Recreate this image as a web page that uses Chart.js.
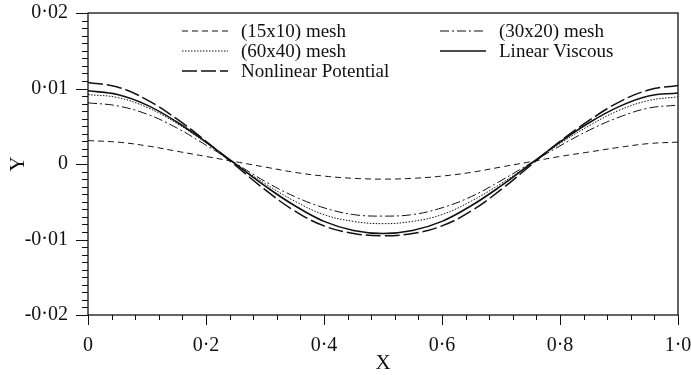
<!DOCTYPE html>
<html>
<head>
<meta charset="utf-8">
<script src="https://cdn.jsdelivr.net/npm/chart.js@4/dist/chart.umd.min.js"></script>
<style>
  html, body { margin: 0; padding: 0; background: #fff; }
  #wrap { width: 691px; height: 375px; }
</style>
</head>
<body>
<div id="wrap"><canvas id="c" width="691" height="375"></canvas></div>
<script>
// x positions of the sampled points
var xValues = [0, 0.05, 0.1, 0.15, 0.2, 0.25, 0.3, 0.35, 0.4, 0.45, 0.5,
               0.55, 0.6, 0.65, 0.7, 0.75, 0.8, 0.85, 0.9, 0.95, 1.0];

var mesh15x10 = [0.0031, 0.0029, 0.0024, 0.0017, 0.0010, 0.0003, -0.0004, -0.0011, -0.0016, -0.0019, -0.0020,
                 -0.0019, -0.0016, -0.0011, -0.0004, 0.0003, 0.0010, 0.0016, 0.0022, 0.0027, 0.0029];
var mesh30x20 = [0.0081, 0.0077, 0.0066, 0.0048, 0.0025, 0.0001, -0.0023, -0.0043, -0.0058, -0.0067, -0.0069,
                 -0.0067, -0.0058, -0.0043, -0.0022, 0.0001, 0.0024, 0.0045, 0.0062, 0.0074, 0.0078];
var mesh60x40 = [0.0092, 0.0088, 0.0075, 0.0054, 0.0028, 0.0000, -0.0026, -0.0049, -0.0067, -0.0076, -0.0079,
                 -0.0076, -0.0067, -0.0049, -0.0026, 0.0000, 0.0027, 0.0051, 0.0071, 0.0084, 0.0089];
var linearViscous = [0.0097, 0.0092, 0.0078, 0.0056, 0.0029, 0.0000, -0.0029, -0.0055, -0.0076, -0.0088, -0.0092,
                     -0.0088, -0.0076, -0.0055, -0.0029, 0.0000, 0.0029, 0.0055, 0.0076, 0.0090, 0.0094];
var nonlinearPotential = [0.0108, 0.0102, 0.0085, 0.0060, 0.0030, -0.0002, -0.0034, -0.0062, -0.0082, -0.0092, -0.0095,
                          -0.0092, -0.0082, -0.0062, -0.0034, -0.0002, 0.0030, 0.0058, 0.0082, 0.0098, 0.0104];

var seriesNames = ['(15x10) mesh', '(30x20) mesh', '(60x40) mesh', 'Linear Viscous', 'Nonlinear Potential'];
var xTickLabels = ['0', '0·2', '0·4', '0·6', '0·8', '1·0'];
var yTickLabels = ['-0·02', '-0·01', '0', '0·01', '0·02'];

var ink = '#111';
var serif = '"Liberation Serif", "DejaVu Serif", serif';

function pts(ys) {
  return xValues.map(function(x, i) { return {x: x, y: ys[i]}; });
}

function ds(label, ys, dash, width) {
  return {
    label: label,
    data: pts(ys),
    borderColor: ink,
    borderWidth: width,
    borderDash: dash,
    pointRadius: 0,
    fill: false,
    tension: 0.4
  };
}

var datasets = [
  ds(seriesNames[0], mesh15x10, [6, 4], 1),
  ds(seriesNames[1], mesh30x20, [9, 3, 2, 3], 1),
  ds(seriesNames[2], mesh60x40, [1.5, 1.5], 1),
  ds(seriesNames[3], linearViscous, [], 1.6),
  ds(seriesNames[4], nonlinearPotential, [15, 4], 1.5)
];

// frame, major/minor ticks and the two-column legend
var decor = {
  id: 'decor',
  afterDatasetsDraw: function(chart) {
    var ctx = chart.ctx, a = chart.chartArea;
    var xs = chart.scales.x, ys = chart.scales.y;
    ctx.save();
    ctx.strokeStyle = ink;
    ctx.setLineDash([]);
    ctx.lineWidth = 1.3;
    ctx.strokeRect(a.left, a.top, a.right - a.left, a.bottom - a.top);

    ctx.lineWidth = 1;
    ctx.beginPath();
    for (var i = 0; i <= 25; i++) {
      var px = Math.round(xs.getPixelForValue(i * 0.04)) + 0.5;
      var len = (i % 5 === 0) ? 10 : 5;
      ctx.moveTo(px, a.bottom);
      ctx.lineTo(px, a.bottom + len);
    }
    for (var j = -20; j <= 20; j++) {
      var py = Math.round(ys.getPixelForValue(j * 0.001)) + 0.5;
      var l2 = (j % 10 === 0) ? 12 : 6;
      ctx.moveTo(a.left, py);
      ctx.lineTo(a.left - l2, py);
    }
    ctx.stroke();

    // legend
    var slots = [
      {d: 0, x: 182, y: 31}, {d: 2, x: 182, y: 51}, {d: 4, x: 182, y: 71},
      {d: 1, x: 440, y: 31}, {d: 3, x: 440, y: 51}
    ];
    ctx.font = '19px ' + serif;
    ctx.fillStyle = ink;
    ctx.textBaseline = 'middle';
    slots.forEach(function(s) {
      var d = chart.data.datasets[s.d];
      ctx.setLineDash(d.borderDash);
      ctx.lineWidth = d.borderWidth;
      ctx.beginPath();
      ctx.moveTo(s.x, s.y);
      ctx.lineTo(s.x + 46, s.y);
      ctx.stroke();
      ctx.setLineDash([]);
      ctx.fillText(d.label, s.x + 59, s.y + 1);
    });
    ctx.restore();
  }
};

new Chart(document.getElementById('c').getContext('2d'), {
  type: 'line',
  data: { datasets: datasets },
  options: {
    responsive: false,
    animation: false,
    layout: { padding: { left: 0, top: 13, right: 13, bottom: 0 } },
    plugins: { legend: { display: false }, tooltip: { enabled: false } },
    scales: {
      x: {
        type: 'linear',
        min: 0, max: 1,
        grid: { display: false, drawTicks: false },
        border: { display: false },
        afterFit: function(s) { s.height = 60; s.paddingLeft = 0; s.paddingRight = 0; },
        ticks: {
          stepSize: 0.2,
          padding: 19,
          color: ink,
          font: { family: serif, size: 20 },
          callback: function(v, i) { return xTickLabels[i]; }
        },
        title: {
          display: true, text: 'X', color: ink,
          font: { family: serif, size: 21, lineHeight: 1 },
          padding: { top: 0, bottom: 1 }
        }
      },
      y: {
        min: -0.02, max: 0.02,
        grid: { display: false, drawTicks: false },
        border: { display: false },
        afterFit: function(s) { s.width = 88; s.paddingTop = 0; s.paddingBottom = 0; },
        ticks: {
          stepSize: 0.01,
          padding: 20,
          color: ink,
          font: { family: serif, size: 20 },
          callback: function(v, i) { return yTickLabels[i]; }
        },
        title: {
          display: true, text: 'Y', color: ink,
          font: { family: serif, size: 21, lineHeight: 1 },
          padding: { top: 8, bottom: 0 }
        }
      }
    }
  },
  plugins: [decor]
});
</script>
</body>
</html>
